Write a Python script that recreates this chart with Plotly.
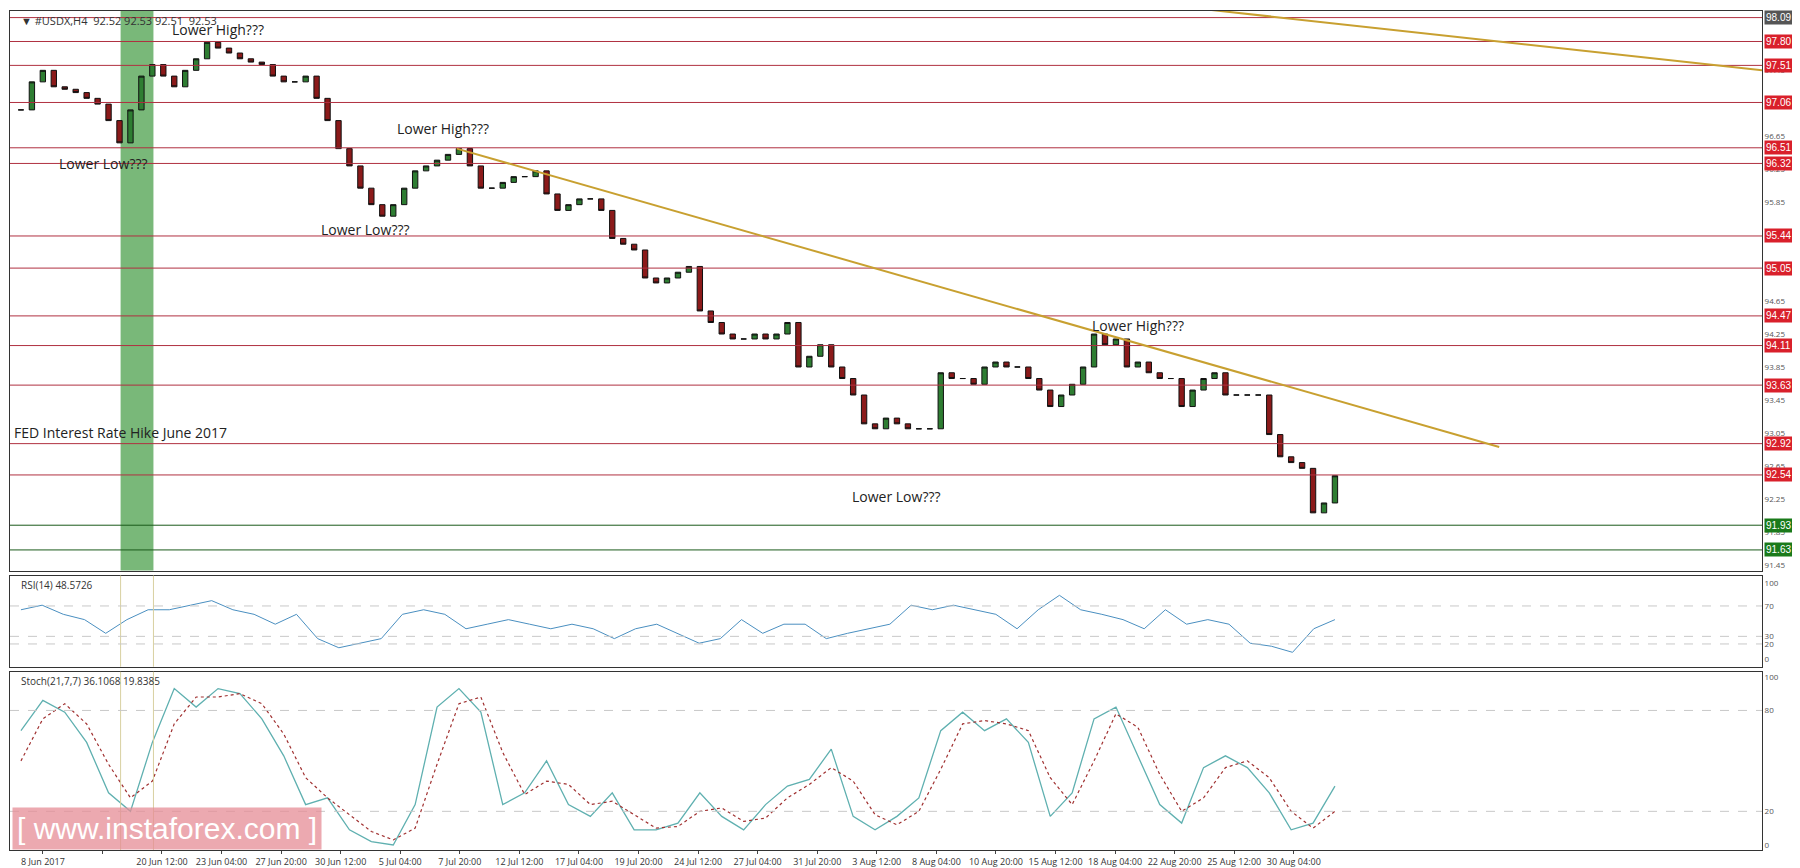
import plotly.graph_objects as go
from plotly.subplots import make_subplots

# price closes, one candle per 12h (approx.)
closes = [96.97,97.31,97.45,97.25,97.22,97.18,97.11,97.04,96.84,96.57,96.97,97.38,97.52,97.38,97.25,97.45,97.59,97.79,97.72,97.66,
          97.59,97.55,97.52,97.38,97.31,97.31,97.38,97.11,96.84,96.50,96.29,96.02,95.82,95.68,95.82,96.02,96.23,96.29,96.36,96.43,
          96.50,96.29,96.02,96.02,96.09,96.16,96.16,96.23,95.95,95.75,95.82,95.89,95.89,95.75,95.41,95.34,95.27,94.93,94.87,94.93,
          95.00,95.07,94.53,94.39,94.25,94.19,94.19,94.25,94.19,94.25,94.39,93.85,93.98,94.12,93.85,93.71,93.51,93.16,93.10,93.23,
          93.16,93.10,93.10,93.10,93.78,93.71,93.71,93.64,93.85,93.91,93.85,93.85,93.71,93.57,93.37,93.51,93.64,93.85,94.25,94.12,
          94.19,93.85,93.91,93.78,93.71,93.71,93.37,93.57,93.71,93.78,93.51,93.51,93.51,93.51,93.03,92.76,92.69,92.62,92.08,92.20,92.53]
rsi = [65,71,59,52,34,52,65,65,71,77,65,59,46,59,27,15,21,27,59,65,59,40,46,52,46,40,46,40,27,40,46,34,21,27,52,34,46,46,27,34,
       40,46,71,65,71,65,59,40,65,84,65,59,52,40,65,46,52,46,21,17,9,40,52]
stoch_main = [68,86,79,61,31,20,61,93,82,93,90,75,53,24,28,9,2,0,24,82,93,79,24,31,50,24,17,31,9,9,13,31,17,9,24,35,39,57,17,9,
              17,28,68,79,68,75,61,17,31,75,82,53,24,13,46,53,46,31,9,13,35]
stoch_signal = [50,75,84,72,48,28,38,72,88,88,90,84,66,40,28,18,8,3,10,48,84,88,55,30,38,36,24,26,18,10,11,20,22,14,16,28,36,46,38,18,
                12,20,45,72,74,72,68,40,24,50,78,70,42,20,28,46,50,40,20,10,20]
levels = [98.09,97.80,97.51,97.06,96.51,96.32,95.44,95.05,94.47,94.11,93.63,92.92,92.54,91.93,91.63]
level_colors = ["#555555"] + ["#d9202b"]*12 + ["#1a7a1a"]*2
price_ticks = [97.45,96.65,96.25,95.85,94.65,94.25,93.85,93.45,93.05,92.65,92.25,91.85,91.45]
date_labels = ["8 Jun 2017","","20 Jun 12:00","23 Jun 04:00","27 Jun 20:00","30 Jun 12:00","5 Jul 04:00","7 Jul 20:00",
               "12 Jul 12:00","17 Jul 04:00","19 Jul 20:00","24 Jul 12:00","27 Jul 04:00","31 Jul 20:00","3 Aug 12:00",
               "8 Aug 04:00","10 Aug 20:00","15 Aug 12:00","18 Aug 04:00","22 Aug 20:00","25 Aug 12:00","30 Aug 04:00"]

n = len(closes)
xs = list(range(n))
opens = [closes[0]] + closes[:-1]
XMAX = 159
fig = make_subplots(rows=3, cols=1, shared_xaxes=True, vertical_spacing=0.006, row_heights=[0.675, 0.11, 0.215])

fig.add_trace(go.Candlestick(x=xs, open=opens, close=closes,
                             high=[max(a, b) for a, b in zip(opens, closes)],
                             low=[min(a, b) for a, b in zip(opens, closes)],
                             increasing=dict(line=dict(color="#111", width=1), fillcolor="#2e7d32"),
                             decreasing=dict(line=dict(color="#111", width=1), fillcolor="#8b1a1a"),
                             whiskerwidth=0, showlegend=False), row=1, col=1)

def sx(arr):
    return [i * (n - 1) / (len(arr) - 1) for i in range(len(arr))]

fig.add_trace(go.Scatter(x=sx(rsi), y=rsi, mode="lines", line=dict(color="#4a8fc0", width=1), showlegend=False), row=2, col=1)
fig.add_trace(go.Scatter(x=sx(stoch_main), y=stoch_main, mode="lines", line=dict(color="#5fb0b0", width=1.3), showlegend=False), row=3, col=1)
fig.add_trace(go.Scatter(x=sx(stoch_signal), y=stoch_signal, mode="lines", line=dict(color="#a03030", width=1.2, dash="dot"), showlegend=False), row=3, col=1)

shapes = []
for lv, c in zip(levels, level_colors):
    lc = "#1a5a1a" if c == "#1a7a1a" else "#b03040"
    shapes.append(dict(type="line", xref="x", yref="y", x0=-1, x1=XMAX, y0=lv, y1=lv, line=dict(color=lc, width=1)))
shapes.append(dict(type="rect", xref="x", yref="y domain", x0=9.1, x1=12.1, y0=0, y1=1, fillcolor="rgba(76,160,76,0.75)", line=dict(width=0), layer="below"))
for xv in (9.1, 12.1):
    for yr in ("y2 domain", "y3 domain"):
        shapes.append(dict(type="line", xref="x", yref=yr, x0=xv, x1=xv, y0=0, y1=1, line=dict(color="#d8d0a0", width=1)))
shapes.append(dict(type="line", xref="x", yref="y", x0=39.8, x1=135, y0=96.50, y1=92.88, line=dict(color="#c8a030", width=2)))
shapes.append(dict(type="line", xref="x", yref="y", x0=107.5, x1=XMAX, y0=98.20, y1=97.45, line=dict(color="#c8a030", width=2)))
for yv, yr in [(70, "y2"), (30, "y2"), (20, "y2"), (80, "y3"), (20, "y3")]:
    shapes.append(dict(type="line", xref="x", yref=yr, x0=-1, x1=XMAX, y0=yv, y1=yv, line=dict(color="#c8c8c8", width=1, dash="dash")))

annotations = []
for lv, c in zip(levels, level_colors):
    annotations.append(dict(x=1.0, xref="paper", y=lv, yref="y", text=f"{lv:.2f}", showarrow=False, xanchor="left",
                            bgcolor=c, font=dict(color="white", size=10, family="Arial"), borderpad=1, xshift=2))
texts = [(18, 97.95, "Lower High???"), (7.5, 96.32, "Lower Low???"), (38.5, 96.75, "Lower High???"),
         (31.5, 95.52, "Lower Low???"), (80, 92.28, "Lower Low???"), (102, 94.35, "Lower High???")]
for xv, yv, t in texts:
    annotations.append(dict(x=xv, y=yv, xref="x", yref="y", text=t, showarrow=False, font=dict(size=14, color="#222", family="Open Sans")))
annotations.append(dict(x=0.001, y=92.92, xref="paper", yref="y", text="FED Interest Rate Hike June 2017", showarrow=False,
                        xanchor="left", yanchor="bottom", font=dict(size=14, color="#222", family="Open Sans")))
annotations.append(dict(x=0.005, y=1.0, xref="paper", yref="paper", text="▼ #USDX,H4  92.52 92.53 92.51  92.53", showarrow=False,
                        xanchor="left", yanchor="top", font=dict(size=11, color="#333")))
annotations.append(dict(x=0.005, y=1.0, xref="paper", yref="y2 domain", text="RSI(14) 48.5726", showarrow=False,
                        xanchor="left", yanchor="top", font=dict(size=10, color="#333")))
annotations.append(dict(x=0.005, y=1.0, xref="paper", yref="y3 domain", text="Stoch(21,7,7) 36.1068 19.8385", showarrow=False,
                        xanchor="left", yanchor="top", font=dict(size=10, color="#333")))
annotations.append(dict(x=0.001, y=0.0, xref="paper", yref="paper", text="[ www.instaforex.com ]", showarrow=False,
                        xanchor="left", yanchor="bottom", bgcolor="rgba(230,140,150,0.75)", font=dict(size=30, color="white", family="Arial"),
                        borderpad=4))

fig.update_layout(width=1800, height=868, plot_bgcolor="white", paper_bgcolor="white",
                  margin=dict(l=2, r=46, t=3, b=26), shapes=shapes, annotations=annotations,
                  xaxis_rangeslider_visible=False)
step = 5.44
tickvals = [2 + i * step for i in range(len(date_labels))]
for r in (1, 2, 3):
    fig.update_xaxes(range=[-1, XMAX], showgrid=False, showline=True, linecolor="#333", mirror=True,
                     rangeslider_visible=False, row=r, col=1)
fig.update_xaxes(tickvals=tickvals, ticktext=date_labels, tickangle=0, tickfont=dict(size=9, color="#333"), ticks="outside", ticklen=3, row=3, col=1)
fig.update_yaxes(side="right", range=[91.38, 98.17], showgrid=False, showline=True, linecolor="#333", mirror=True,
                 tickvals=price_ticks, tickformat=".2f", tickfont=dict(size=8, color="#555"), row=1, col=1)
fig.update_yaxes(side="right", range=[-10, 110], showgrid=False, showline=True, linecolor="#333", mirror=True,
                 tickvals=[0, 20, 30, 70, 100], tickfont=dict(size=8, color="#555"), row=2, col=1)
fig.update_yaxes(side="right", range=[-3, 103], showgrid=False, showline=True, linecolor="#333", mirror=True,
                 tickvals=[0, 20, 80, 100], tickfont=dict(size=8, color="#555"), row=3, col=1)
fig.write_html("out.html")
